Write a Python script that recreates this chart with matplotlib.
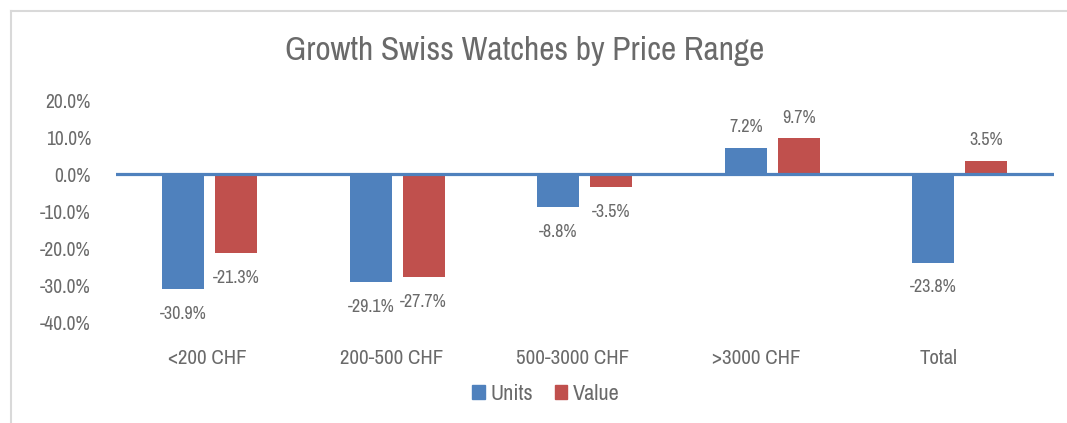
import matplotlib
matplotlib.use("Agg")
import matplotlib.pyplot as plt
from matplotlib.transforms import ScaledTranslation
from matplotlib.lines import Line2D
from matplotlib.patches import Patch
import numpy as np

categories = ["<200 CHF", "200-500 CHF", "500-3000 CHF", ">3000 CHF", "Total"]
units = [-30.9, -29.1, -8.8, 7.2, -23.8]
value = [-21.3, -27.7, -3.5, 9.7, 3.5]
yticks = [-40, -30, -20, -10, 0, 10, 20]

plt.rcParams["font.family"] = ["Archivo Narrow", "Liberation Sans", "DejaVu Sans"]

TXT = "#6a6a6a"
BLUE = "#4F81BD"
RED = "#C0504D"

fig = plt.figure(figsize=(10.67, 4.23), dpi=100)
ax = fig.add_axes([116 / 1067, 1 - 322.7 / 423, (1053.5 - 116) / 1067, (322.7 - 100.3) / 423])

x = np.arange(len(categories))
w = 0.224
off = 0.1413
b1 = ax.bar(x - off, units, w, color=BLUE, zorder=2)
b2 = ax.bar(x + off, value, w, color=RED, zorder=2)

ax.axhline(0, color=BLUE, lw=2.3, zorder=3)
ax.set_xlim(-0.5, len(categories) - 0.5)
ax.set_ylim(-40, 20)
ax.set_yticks(yticks)
ax.set_yticklabels([f"{v:.1f}%" for v in yticks])
ax.set_xticks(x)
ax.set_xticklabels(categories)
for s in ax.spines.values():
    s.set_visible(False)
ax.tick_params(axis="y", length=0, pad=18, labelsize=14, labelcolor=TXT)
ax.tick_params(axis="x", length=0, pad=19, labelsize=15, labelcolor=TXT)

# slight horizontal shifts of category labels as in the reference
shifts_px = [-2, -5.5, -12, -16.5, -21]
for lab, dx in zip(ax.get_xticklabels(), shifts_px):
    lab.set_transform(lab.get_transform() + ScaledTranslation(dx / 100, 0, fig.dpi_scale_trans))

for bars, vals in ((b1, units), (b2, value)):
    for rect, v in zip(bars, vals):
        cx = rect.get_x() + rect.get_width() / 2
        if v < 0:
            ax.annotate(f"{v:.1f}%", (cx, v), xytext=(0, -12), textcoords="offset points",
                        ha="center", va="top", fontsize=13, color=TXT)
        else:
            ax.annotate(f"{v:.1f}%", (cx, v), xytext=(0, 11.5), textcoords="offset points",
                        ha="center", va="baseline", fontsize=13, color=TXT)

fig.text(525 / 1067, 1 - 51 / 423, "Growth Swiss Watches by Price Range",
         ha="center", va="center", fontsize=24, color=TXT)

handles = [Patch(color=BLUE, label="Units"), Patch(color=RED, label="Value")]
fig.legend(handles=handles, loc="center", bbox_to_anchor=(546 / 1067, 1 - 394 / 423),
           ncol=2, frameon=False, fontsize=16, labelcolor=TXT,
           handlelength=0.55, handleheight=0.55, handletextpad=0.25, columnspacing=1.0)

# chart frame (top and left edges visible)
fig.add_artist(Line2D([11 / 1067, 1], [1 - 11 / 423, 1 - 11 / 423], color="#D9D9D9", lw=1.5,
                      transform=fig.transFigure))
fig.add_artist(Line2D([11 / 1067, 11 / 1067], [0, 1 - 11 / 423], color="#D9D9D9", lw=1.5,
                      transform=fig.transFigure))

fig.savefig("out.png", dpi=100)
